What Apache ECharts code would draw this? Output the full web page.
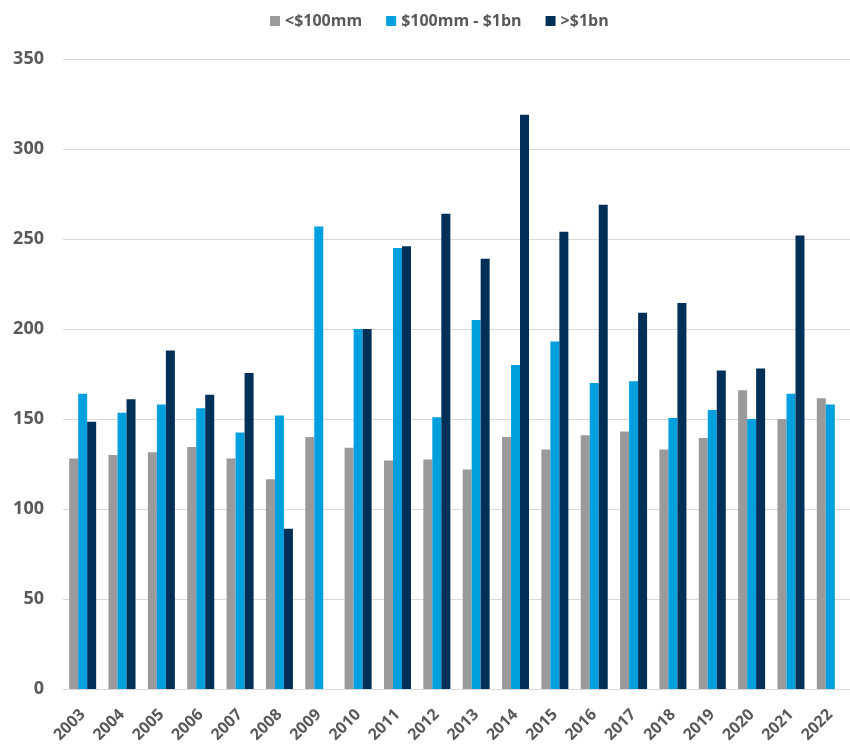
<!DOCTYPE html>
<html>
<head>
<meta charset="utf-8">
<script src="https://cdn.jsdelivr.net/npm/echarts@6/dist/echarts.min.js"></script>
<style>html,body{margin:0;padding:0;background:#fff}#chart{width:850px;height:748px}</style>
</head>
<body>
<div id="chart"></div>
<script>
const categories = ['2003','2004','2005','2006','2007','2008','2009','2010','2011','2012','2013','2014','2015','2016','2017','2018','2019','2020','2021','2022'];
const seriesNames = ['<$100mm', '$100mm - $1bn', '>$1bn'];
const small = [128,130,131.5,134.5,128,116.5,140,134,127,127.5,122,140,133,141,143,133,139.5,166,150,161.5];
const mid = [164,153.5,158,156,142.5,152,257,200,245,151,205,180,193,170,171,150.5,155,150,164,158];
const large = [148.5,161,188,163.5,175.5,89,null,200,246,264,239,319,254,269,209,214.5,177,178,252,null];
const yTicks = {min:0, max:350, interval:50};

const colors = ['#9a9a9c', '#00a0df', '#002f58'];
const font = 'Open Sans';
const chart = echarts.init(document.getElementById('chart'));
chart.setOption({
  animation: false,
  color: colors,
  legend: {
    top: 8, left: 265,
    itemWidth: 10, itemHeight: 10, itemGap: 24,
    icon: 'rect',
    textStyle: {color: '#595959', fontWeight: 'bold', fontSize: 16, fontFamily: font}
  },
  grid: {left: 63, right: 0, top: 59, bottom: 59},
  xAxis: {
    type: 'category', data: categories,
    axisLine: {lineStyle: {color: '#d9d9d9'}},
    axisTick: {show: false},
    axisLabel: {rotate: 45, color: '#595959', fontWeight: 'bold', fontSize: 16, fontFamily: font, margin: 23, interval: 0}
  },
  yAxis: {
    type: 'value', min: yTicks.min, max: yTicks.max, interval: yTicks.interval,
    axisLine: {show: false}, axisTick: {show: false},
    splitLine: {lineStyle: {color: '#d9d9d9', width: 1}},
    axisLabel: {color: '#595959', fontWeight: 'bold', fontSize: 18, fontFamily: font, margin: 19}
  },
  series: [small, mid, large].map((d, i) => ({
    name: seriesNames[i], type: 'bar', data: d,
    barWidth: 9, barGap: '0%',
    itemStyle: {color: colors[i]}
  }))
});
</script>
</body>
</html>
